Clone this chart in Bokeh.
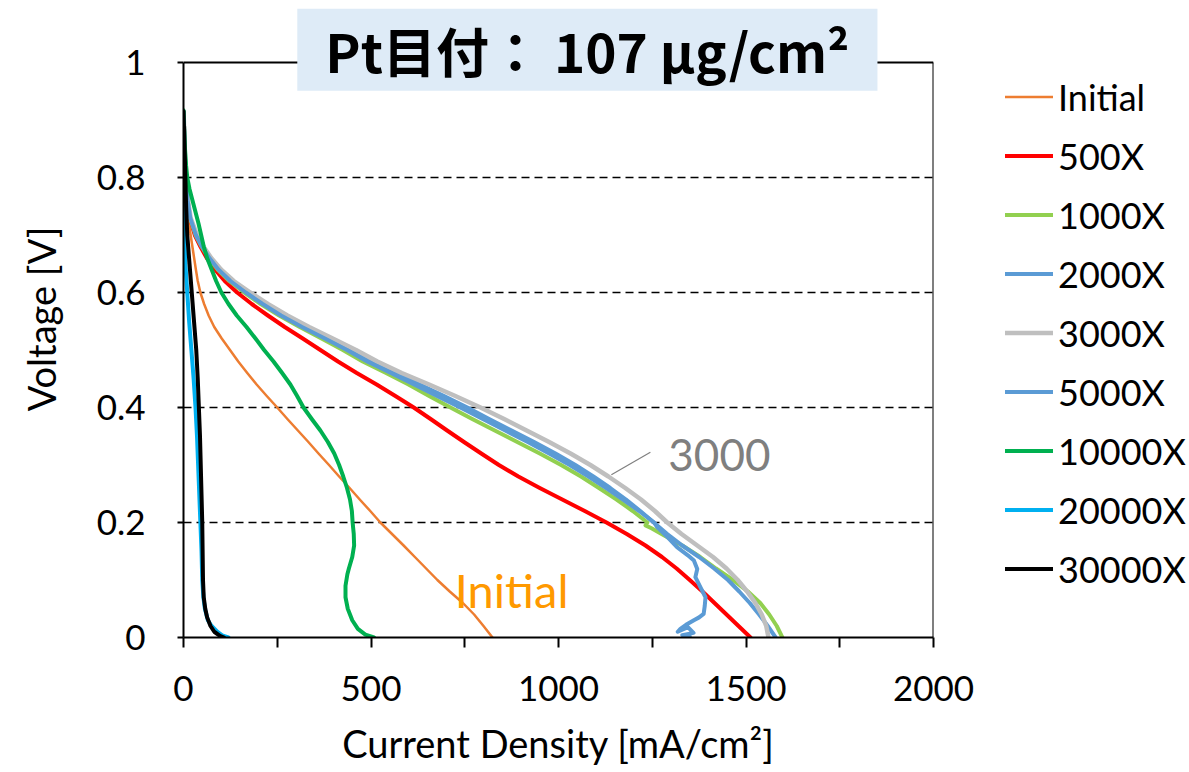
from bokeh.plotting import figure
from bokeh.models import Range1d, FixedTicker, Label, Legend, LegendItem
from bokeh.embed import file_html
from bokeh.resources import INLINE

# ---------------- data ----------------
series_names = ["Initial", "500X", "1000X", "2000X", "3000X", "5000X", "10000X", "20000X", "30000X"]

initial_y = [0.915, 0.85, 0.80, 0.76, 0.73, 0.70, 0.67, 0.64, 0.62, 0.60, 0.58, 0.56, 0.54, 0.52, 0.50, 0.48, 0.46, 0.44, 0.42, 0.40, 0.38, 0.36, 0.34, 0.32, 0.30, 0.28, 0.26, 0.24, 0.22, 0.20, 0.18, 0.16, 0.14, 0.12, 0.10, 0.08, 0.06, 0.04, 0.02, 0.0]
initial_x = [0, 3, 5, 8, 12, 19, 26, 33, 38, 45, 55, 67, 82, 102, 124, 146, 170, 195, 222, 250, 277, 305, 333, 360, 388, 415, 443, 470, 498, 525, 556, 587, 617, 647, 677, 710, 745, 775, 800, 824]

x500_y = [0.915, 0.88, 0.85, 0.80, 0.76, 0.73, 0.70, 0.68, 0.66, 0.64, 0.62, 0.60, 0.58, 0.56, 0.54, 0.52, 0.50, 0.48, 0.46, 0.44, 0.42, 0.40, 0.38, 0.36, 0.34, 0.32, 0.30, 0.28, 0.26, 0.24, 0.22, 0.20, 0.18, 0.16, 0.14, 0.12, 0.10, 0.08, 0.06, 0.04, 0.02, 0.0]
x500_x = [0, 2, 3, 6, 11, 17, 30, 45, 62, 84, 110, 143, 182, 225, 270, 318, 365, 412, 462, 515, 565, 614, 659, 703, 748, 794, 841, 893, 950, 1010, 1070, 1128, 1182, 1232, 1276, 1315, 1350, 1384, 1416, 1448, 1480, 1512]

x1000_y = [0.915, 0.88, 0.85, 0.80, 0.76, 0.73, 0.70, 0.68, 0.66, 0.64, 0.62, 0.60, 0.58, 0.56, 0.54, 0.52, 0.50, 0.48, 0.46, 0.44, 0.42, 0.40, 0.38, 0.36, 0.34, 0.32, 0.30, 0.28, 0.26, 0.24, 0.22, 0.20, 0.195, 0.19, 0.18, 0.16, 0.14, 0.12, 0.10, 0.08, 0.06, 0.04, 0.02, 0.0]
x1000_x = [0, 2, 3, 6, 11, 17, 32, 48, 67, 91, 122, 162, 206, 255, 310, 368, 425, 478, 540, 600, 655, 712, 770, 830, 890, 950, 1007, 1060, 1108, 1155, 1198, 1237, 1232, 1248, 1275, 1330, 1378, 1420, 1465, 1505, 1538, 1562, 1582, 1597]

x2000_y = [0.915, 0.88, 0.85, 0.80, 0.76, 0.73, 0.70, 0.68, 0.66, 0.64, 0.62, 0.60, 0.58, 0.56, 0.54, 0.52, 0.50, 0.48, 0.46, 0.44, 0.42, 0.40, 0.38, 0.36, 0.34, 0.32, 0.30, 0.28, 0.26, 0.24, 0.22, 0.20, 0.18, 0.16, 0.14, 0.12, 0.10, 0.08, 0.06, 0.04, 0.02, 0.0]
x2000_x = [0, 2, 3, 6, 11, 18, 34, 50, 70, 95, 128, 170, 215, 265, 322, 385, 445, 500, 565, 630, 695, 757, 815, 875, 935, 992, 1045, 1093, 1138, 1180, 1218, 1254, 1290, 1330, 1375, 1415, 1452, 1482, 1510, 1535, 1558, 1579]

x3000_y = [0.915, 0.88, 0.85, 0.80, 0.76, 0.73, 0.70, 0.68, 0.66, 0.64, 0.62, 0.60, 0.58, 0.56, 0.54, 0.52, 0.50, 0.48, 0.46, 0.44, 0.42, 0.40, 0.38, 0.36, 0.34, 0.32, 0.30, 0.28, 0.26, 0.24, 0.22, 0.20, 0.18, 0.16, 0.14, 0.12, 0.10, 0.08, 0.06, 0.04, 0.02, 0.0]
x3000_x = [0, 2, 3, 6, 12, 19, 36, 53, 74, 100, 134, 178, 225, 277, 335, 398, 460, 517, 582, 655, 725, 792, 855, 915, 975, 1032, 1085, 1133, 1178, 1220, 1257, 1290, 1328, 1370, 1412, 1448, 1478, 1503, 1525, 1542, 1554, 1560]

x5000_y = [0.915, 0.88, 0.85, 0.80, 0.76, 0.73, 0.70, 0.68, 0.66, 0.64, 0.62, 0.60, 0.58, 0.56, 0.54, 0.52, 0.50, 0.48, 0.46, 0.44, 0.42, 0.40, 0.38, 0.36, 0.34, 0.32, 0.30, 0.28, 0.26, 0.24, 0.22, 0.20, 0.192, 0.175, 0.157, 0.143, 0.134, 0.119, 0.105, 0.088, 0.07, 0.055, 0.041, 0.035, 0.03, 0.022, 0.015, 0.01, 0.018, 0.008, 0.004, 0.002, 0.0]
x5000_x = [0, 2, 3, 6, 11, 18, 33, 49, 69, 93, 125, 166, 211, 260, 316, 377, 436, 490, 553, 615, 676, 738, 798, 858, 918, 975, 1030, 1080, 1127, 1172, 1215, 1255, 1263, 1290, 1316, 1345, 1361, 1370, 1365, 1378, 1392, 1390, 1387, 1375, 1361, 1340, 1325, 1318, 1345, 1360, 1330, 1350, 1333]

x10000_y = [0.917, 0.88, 0.85, 0.82, 0.80, 0.78, 0.76, 0.74, 0.72, 0.70, 0.68, 0.66, 0.64, 0.62, 0.60, 0.58, 0.56, 0.54, 0.52, 0.50, 0.48, 0.46, 0.44, 0.42, 0.40, 0.38, 0.36, 0.34, 0.32, 0.30, 0.28, 0.26, 0.24, 0.22, 0.20, 0.18, 0.16, 0.14, 0.12, 0.11, 0.09, 0.07, 0.05, 0.03, 0.015, 0.005, 0.0]
x10000_x = [0, 2, 4, 7, 10, 16, 24, 32, 40, 47, 54, 63, 75, 87, 101, 120, 142, 168, 192, 215, 240, 263, 285, 303, 320, 342, 365, 385, 402, 415, 426, 436, 444, 449, 451, 454, 455, 450, 441, 437, 432, 432, 438, 450, 465, 485, 508]

x20000_y = [0.90, 0.85, 0.80, 0.75, 0.70, 0.65, 0.60, 0.55, 0.50, 0.45, 0.40, 0.35, 0.30, 0.25, 0.20, 0.15, 0.10, 0.07, 0.05, 0.03, 0.02, 0.01, 0.003, 0.0]
x20000_x = [0, 0, 1, 1, 2, 5, 10, 15, 21, 27, 32, 36, 39, 42, 45, 48, 50, 53, 57, 65, 75, 90, 105, 120]

x30000_y = [0.915, 0.85, 0.80, 0.75, 0.70, 0.65, 0.60, 0.55, 0.50, 0.45, 0.40, 0.35, 0.30, 0.25, 0.20, 0.15, 0.10, 0.07, 0.05, 0.035, 0.02, 0.01, 0.003, 0.0]
x30000_x = [0, 3, 5, 7, 10, 16, 22, 28, 34, 38, 41, 44, 46, 48, 50, 51, 52, 54, 58, 63, 72, 82, 97, 108]

x_ticks = [0, 500, 1000, 1500, 2000]
x_minor_ticks = [250, 750, 1250, 1750]
y_ticks = [0, 0.2, 0.4, 0.6, 0.8, 1.0]
y_tick_labels = ["0", "0.2", "0.4", "0.6", "0.8", "1"]
grid_levels = [0.2, 0.4, 0.6, 0.8]
X_MAX = 2000
Y_MAX = 1.0

title_text = "Pt目付： 107 μg/cm²"
x_title = "Current Density [mA/cm²]"
y_title = "Voltage [V]"

# ---------------- styles / layout ----------------
colors = ["#ED7D31", "#FF0000", "#92D050", "#5B9BD5", "#BFBFBF", "#5B9BD5", "#00B050", "#00B0F0", "#000000"]
widths = [2.5, 4, 4, 4, 4.5, 4, 4, 4, 4]
FONT = "Lato"
PX_PER_V = 575.0
FRAME_H = 637
Y_TOP = FRAME_H / PX_PER_V   # frame reaches the top of the canvas so the title box fits

p = figure(frame_width=750, frame_height=FRAME_H,
           min_border_left=183, min_border_right=256,
           min_border_top=0, min_border_bottom=135,
           x_range=Range1d(0, X_MAX), y_range=Range1d(0, Y_TOP),
           output_backend="svg", toolbar_location=None)
p.background_fill_color = "white"
p.border_fill_color = "white"
p.outline_line_color = None

# axes
p.xaxis.ticker = FixedTicker(ticks=x_ticks, minor_ticks=x_minor_ticks)
p.yaxis.ticker = FixedTicker(ticks=y_ticks)
p.yaxis.bounds = (0, Y_MAX)
p.yaxis.major_label_overrides = {t: l for t, l in zip(y_ticks, y_tick_labels)}
for ax in (p.xaxis, p.yaxis):
    ax.axis_line_color = "black"
    ax.axis_line_width = 2
    ax.major_tick_line_color = "black"
    ax.major_tick_line_width = 2
    ax.minor_tick_line_color = "black"
    ax.minor_tick_line_width = 2
    ax.major_tick_in = 0
    ax.minor_tick_in = 0
    ax.major_label_text_font = FONT
    ax.major_label_text_color = "black"
    ax.axis_label_text_font = FONT
    ax.axis_label_text_font_style = "normal"
    ax.axis_label_text_font_size = "38px"
    ax.axis_label_text_color = "black"
p.xaxis.major_label_text_font_size = "35px"
p.yaxis.major_label_text_font_size = "35px"
p.xaxis.major_tick_out = 10
p.xaxis.minor_tick_out = 10
p.xaxis.major_label_standoff = 28
p.xaxis.axis_label = x_title
p.xaxis.axis_label_standoff = 16
p.yaxis.major_tick_out = 6
p.yaxis.minor_tick_out = 0
p.yaxis.major_label_standoff = 32
p.yaxis.axis_label = y_title
p.yaxis.axis_label_standoff = 30

p.xgrid.visible = False
p.ygrid.ticker = FixedTicker(ticks=grid_levels)
p.ygrid.grid_line_color = "black"
p.ygrid.grid_line_dash = "8 5"
p.ygrid.grid_line_width = 1.5

# top and right edges of the plot box
p.segment(x0=[0, X_MAX], y0=[Y_MAX, 0], x1=[X_MAX, X_MAX], y1=[Y_MAX, Y_MAX],
          line_color="black", line_width=2)

xs = [initial_x, x500_x, x1000_x, x2000_x, x3000_x, x5000_x, x10000_x, x20000_x, x30000_x]
ys = [initial_y, x500_y, x1000_y, x2000_y, x3000_y, x5000_y, x10000_y, x20000_y, x30000_y]

items = []
for name, xx, yy, c, w in zip(series_names, xs, ys, colors, widths):
    r = p.line(xx, yy, line_color=c, line_width=w, line_join="round", line_cap="round")
    items.append(LegendItem(label=name, renderers=[r]))

legend = Legend(items=items, location=(72, 39), orientation="vertical",
                glyph_width=48, glyph_height=59, label_height=59, spacing=0,
                padding=0, margin=0, label_standoff=5,
                border_line_alpha=0, background_fill_alpha=0,
                label_text_font=FONT, label_text_font_size="36px",
                label_text_color="black", label_text_baseline="middle")
p.add_layout(legend, "right")

# annotations
p.line([1141, 1245], [0.283, 0.322], line_color="#7F7F7F", line_width=1.2)
p.add_layout(Label(x=1429, y=0.317, text="3000", text_font=FONT, text_font_size="44px",
                   text_color="#7F7F7F", text_align="center", text_baseline="middle"))
p.add_layout(Label(x=875, y=0.082, text="Initial", text_font=FONT, text_font_size="47px",
                   text_color="#FF9900", text_align="center", text_baseline="middle"))

# title box
p.add_layout(Label(x=1077, y=1.022, text=title_text, text_font="Noto Sans CJK JP",
                   text_font_style="bold", text_font_size="53px", text_color="black",
                   text_align="center", text_baseline="middle",
                   background_fill_color="#DEEBF7",
                   padding=dict(left=28, right=28, top=3, bottom=3)))

open("out.html", "w").write(file_html(p, INLINE))
